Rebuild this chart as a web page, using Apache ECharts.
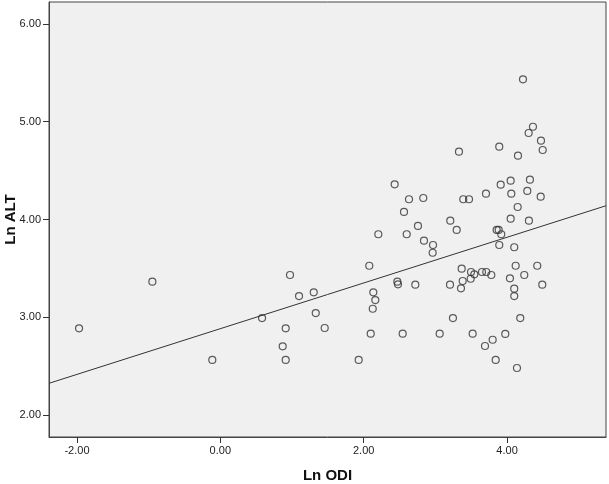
<!DOCTYPE html>
<html>
<head>
<meta charset="utf-8">
<script src="https://cdn.jsdelivr.net/npm/echarts@6/dist/echarts.min.js"></script>
<style>html,body{margin:0;padding:0;background:#fff;}#c{width:609px;height:484px;}</style>
</head>
<body>
<div id="c"></div>
<script>
// Ln ODI values (x)
const lnODI = [-1.971,-0.948,-0.112,0.582,0.912,0.870,0.912,0.972,1.098,1.303,1.331,1.456,1.930,2.078,2.134,2.162,2.126,2.098,2.544,2.469,2.478,2.720,2.204,2.600,2.841,2.967,2.962,2.432,2.632,2.831,2.562,2.757,3.329,3.389,3.469,3.208,3.297,3.204,3.367,3.381,3.357,3.245,3.060,3.520,3.497,3.543,3.650,3.710,3.780,3.492,4.222,4.361,4.301,4.473,4.497,3.891,4.152,4.050,4.319,3.911,4.059,4.282,4.469,3.706,4.148,4.050,4.305,3.855,3.883,3.919,3.891,4.100,4.120,4.421,4.240,4.040,4.100,4.100,4.491,4.184,3.975,3.799,3.692,3.841,4.138];
// Ln ALT values (y)
const lnALT = [2.887,3.364,2.563,2.992,2.887,2.703,2.563,3.432,3.217,3.255,3.043,2.890,2.563,3.527,3.255,3.176,3.087,2.832,2.832,3.364,3.337,3.333,3.849,3.849,3.783,3.739,3.660,4.360,4.207,4.220,4.077,3.934,4.694,4.207,4.207,3.988,3.893,3.333,3.497,3.371,3.296,2.992,2.832,2.832,3.463,3.439,3.463,3.463,3.432,3.394,5.434,4.949,4.885,4.806,4.711,4.745,4.653,4.397,4.407,4.356,4.264,4.292,4.233,4.264,4.128,4.008,3.988,3.893,3.893,3.849,3.739,3.716,3.527,3.527,3.432,3.398,3.292,3.217,3.333,2.992,2.829,2.770,2.706,2.563,2.481];
// Fit line
const fitSlope = 0.2338;
const fitIntercept = 2.883;
// Axis ranges and tick labels
const xRange = [-2.39, 5.38];
const yRange = [1.775, 6.225];
const xTicks = [-2, 0, 2, 4];
const yTicks = [2, 3, 4, 5, 6];

const points = lnODI.map((x, i) => [x, lnALT[i]]);
const fitLine = xRange.map(x => [x, fitIntercept + fitSlope * x]);

const chart = echarts.init(document.getElementById('c'), null, {renderer: 'canvas'});
const labelStyle = {color: '#222', fontSize: 11, fontFamily: 'Liberation Sans, Arial, sans-serif', margin: 8, formatter: v => v.toFixed(2)};
chart.setOption({
  animation: false,
  backgroundColor: '#fff',
  grid: {left: 49, right: 3, top: 2, bottom: 47, containLabel: false, outerBoundsMode: 'none', show: true, backgroundColor: '#f0f0f0', borderColor: '#444', borderWidth: 1},
  xAxis: {
    type: 'value', min: xRange[0], max: xRange[1],
    name: 'Ln ODI', nameLocation: 'middle', nameGap: 31, nameMoveOverlap: false,
    nameTextStyle: {fontSize: 15, fontWeight: 'bold', color: '#111', fontFamily: 'Liberation Sans, Arial, sans-serif'},
    splitLine: {show: false},
    axisLine: {show: true, onZero: false, lineStyle: {color: '#444', width: 1}},
    axisTick: {show: true, length: 6, inside: false, customValues: xTicks, lineStyle: {color: '#333'}},
    axisLabel: Object.assign({customValues: xTicks}, labelStyle)
  },
  yAxis: {
    type: 'value', min: yRange[0], max: yRange[1],
    name: 'Ln ALT', nameLocation: 'middle', nameGap: 31, nameMoveOverlap: false,
    nameTextStyle: {fontSize: 15, fontWeight: 'bold', color: '#111', fontFamily: 'Liberation Sans, Arial, sans-serif'},
    splitLine: {show: false},
    axisLine: {show: true, onZero: false, lineStyle: {color: '#444', width: 1}},
    axisTick: {show: true, length: 6, inside: false, customValues: yTicks, lineStyle: {color: '#333'}},
    axisLabel: Object.assign({customValues: yTicks}, labelStyle)
  },
  series: [
    {
      type: 'line', data: fitLine, symbol: 'none', silent: true,
      lineStyle: {color: '#333', width: 1}, z: 2
    },
    {
      type: 'scatter', data: points, symbol: 'circle', symbolSize: 7,
      itemStyle: {color: 'rgba(0,0,0,0)', borderColor: '#333', borderWidth: 1.2}, z: 3
    }
  ]
});
</script>
</body>
</html>
